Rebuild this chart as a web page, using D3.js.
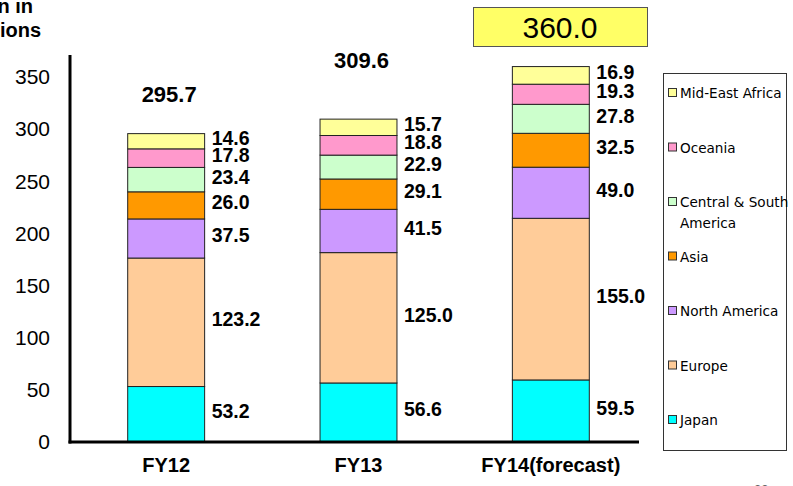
<!DOCTYPE html>
<html>
<head>
<meta charset="utf-8">
<script src="https://cdn.jsdelivr.net/npm/d3@7"></script>
<style>
  html, body { margin: 0; padding: 0; background: #fff; overflow: hidden; }
  svg { display: block; font-family: "Liberation Sans", Arial, sans-serif; }
</style>
</head>
<body>
<svg id="chart" width="793" height="486"></svg>
<script>
// Sales by region, in billions of yen
const categories = ["FY12", "FY13", "FY14(forecast)"];
const regions = ["Japan", "Europe", "North America", "Asia", "Central & South America", "Oceania", "Mid-East Africa"];
const japan = [53.2, 56.6, 59.5];
const europe = [123.2, 125.0, 155.0];
const northAmerica = [37.5, 41.5, 49.0];
const asia = [26.0, 29.1, 32.5];
const centralSouthAmerica = [23.4, 22.9, 27.8];
const oceania = [17.8, 18.8, 19.3];
const midEastAfrica = [14.6, 15.7, 16.9];
const totals = [295.7, 309.6, 360.0];
const yTicks = [0, 50, 100, 150, 200, 250, 300, 350];
const legendLabels = ["Mid-East Africa", "Oceania", ["Central & South", "America"], "Asia", "North America", "Europe", "Japan"];

const seriesValues = [japan, europe, northAmerica, asia, centralSouthAmerica, oceania, midEastAfrica];
const colors = ["#00FFFF", "#FFCC99", "#CC99FF", "#FF9900", "#CCFFCC", "#FF99CC", "#FFFF99"];

const rows = categories.map((c, i) => {
  const r = { category: c };
  regions.forEach((name, j) => { r[name] = seriesValues[j][i]; });
  return r;
});

const svg = d3.select("#chart");

const x = d3.scaleBand().domain(categories).range([70, 647]).paddingInner(0.6).paddingOuter(0.3);
const y = d3.scaleLinear().domain([0, 350]).range([442, 77]);

const stacked = d3.stack().keys(regions)(rows);

// stacked bars
const layers = svg.append("g").selectAll("g").data(stacked).join("g")
  .attr("fill", (d, i) => colors[i]);
layers.selectAll("rect").data(d => d).join("rect")
  .attr("x", d => x(d.data.category))
  .attr("width", x.bandwidth())
  .attr("y", d => y(d[1]))
  .attr("height", d => y(d[0]) - y(d[1]))
  .attr("stroke", "#222")
  .attr("stroke-width", 1);

// segment value labels, right of each bar
layers.each(function (layer, li) {
  d3.select(this).selectAll("text").data(layer).join("text")
    .attr("x", d => x(d.data.category) + x.bandwidth() + 7)
    .attr("y", d => (y(d[0]) + y(d[1])) / 2 - 3)
    .attr("dominant-baseline", "central")
    .attr("font-size", 19.5)
    .attr("font-weight", "bold")
    .attr("fill", "#000")
    .text(d => seriesValues[li][categories.indexOf(d.data.category)].toFixed(1));
});

// totals above the first two bars
const totalLift = [32, 51];
svg.append("g").selectAll("text").data(totals.slice(0, 2)).join("text")
  .attr("x", (d, i) => x(categories[i]) + x.bandwidth() / 2 + 3)
  .attr("y", (d, i) => y(d) - totalLift[i])
  .attr("text-anchor", "middle")
  .attr("font-size", 22)
  .attr("font-weight", "bold")
  .text(d => d.toFixed(1));

// forecast total in a highlighted box
const boxG = svg.append("g");
boxG.append("rect")
  .attr("x", 473.5).attr("y", 7.5).attr("width", 174).attr("height", 39)
  .attr("fill", "#FFFF66").attr("stroke", "#555").attr("stroke-width", 1);
boxG.append("text")
  .attr("x", 560).attr("y", 27)
  .attr("dominant-baseline", "central")
  .attr("text-anchor", "middle")
  .attr("font-size", 30)
  .text(totals[2].toFixed(1));

// y axis labels
const yAxis = svg.append("g").attr("transform", "translate(70,0)")
  .call(d3.axisLeft(y).tickValues(yTicks).tickSize(0).tickPadding(20).tickFormat(d3.format("d")));
yAxis.select(".domain").remove();
yAxis.selectAll("text").attr("font-size", 21).attr("font-family", "Liberation Sans, Arial, sans-serif").attr("fill", "#000");

// x axis labels
const xAxis = svg.append("g").attr("transform", "translate(0,442)")
  .call(d3.axisBottom(x).tickSize(0).tickPadding(16));
xAxis.select(".domain").remove();
xAxis.selectAll("text").attr("font-size", 20).attr("font-weight", "bold")
  .attr("font-family", "Liberation Sans, Arial, sans-serif").attr("fill", "#000");

// axis lines
svg.append("line").attr("x1", 70).attr("x2", 70).attr("y1", 55).attr("y2", 443.5)
  .attr("stroke", "#000").attr("stroke-width", 3);
svg.append("line").attr("x1", 68.5).attr("x2", 639).attr("y1", 442).attr("y2", 442)
  .attr("stroke", "#000").attr("stroke-width", 3);

// unit label
const unit = svg.append("g").attr("font-size", 20).attr("font-weight", "bold");
unit.append("text").attr("x", 33).attr("y", 13).attr("text-anchor", "end").text("Yen in");
unit.append("text").attr("x", 41).attr("y", 37).attr("text-anchor", "end").text("billions");

// legend
const legend = svg.append("g").attr("font-family", "DejaVu Sans, sans-serif").attr("font-size", 13.6);
legend.append("rect").attr("x", 663.5).attr("y", 73.5).attr("width", 123).attr("height", 377)
  .attr("fill", "#fff").attr("stroke", "#333").attr("stroke-width", 1);
const legendColors = colors.slice().reverse();
legendLabels.forEach((lab, i) => {
  const cy = 93 + i * 54.5;
  legend.append("rect").attr("x", 668.5).attr("y", cy - 4.5).attr("width", 8).attr("height", 8)
    .attr("fill", legendColors[i]).attr("stroke", "#333").attr("stroke-width", 1);
  const lines = Array.isArray(lab) ? lab : [lab];
  lines.forEach((ln, k) => {
    legend.append("text").attr("x", 680).attr("y", cy + k * 21)
      .attr("dominant-baseline", "central").attr("fill", "#000").text(ln);
  });
});

// page number at the bottom edge
svg.append("text").attr("x", 754).attr("y", 494).attr("font-size", 13).attr("fill", "#666").text("23");
</script>
</body>
</html>
